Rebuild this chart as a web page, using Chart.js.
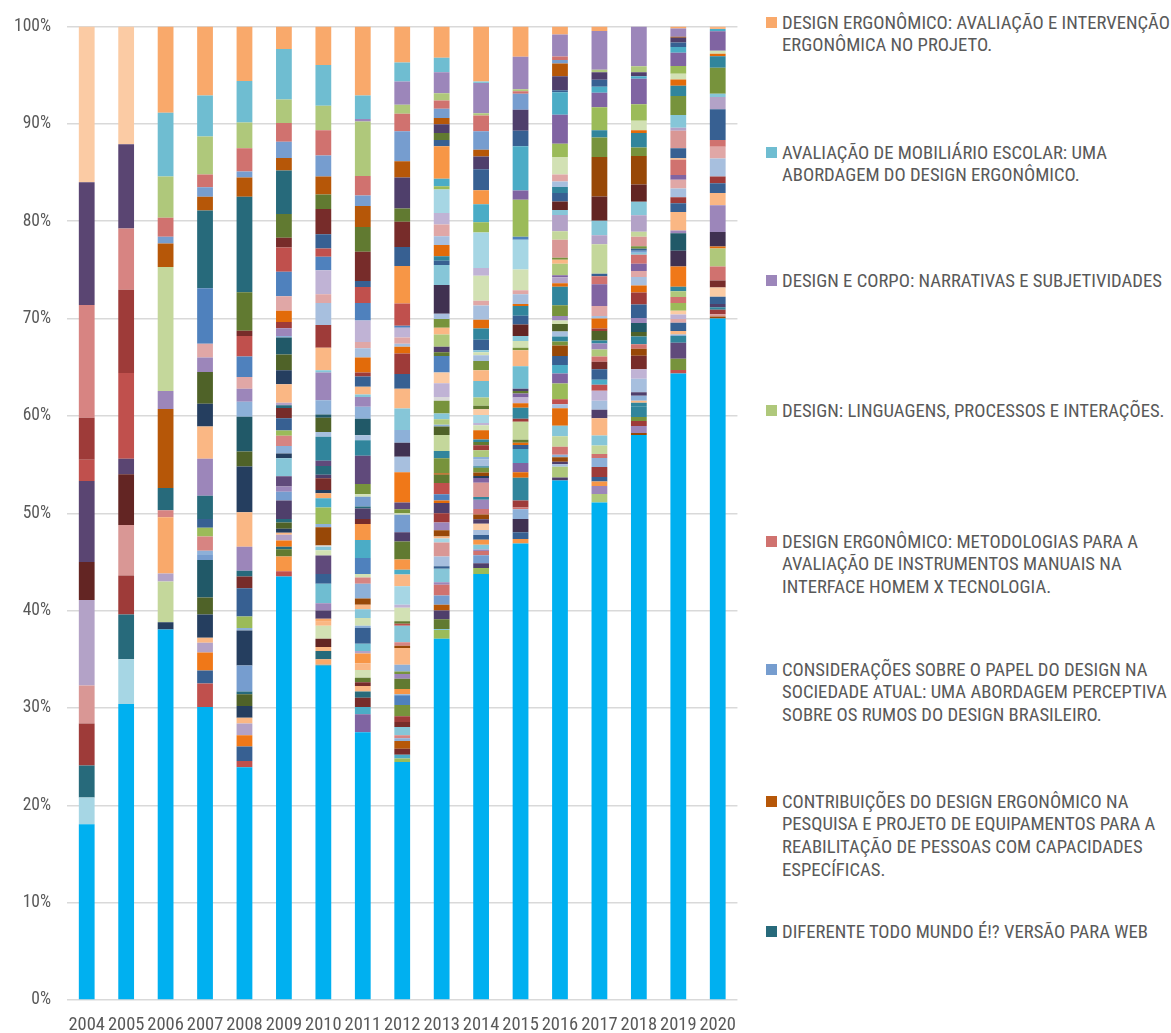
<!DOCTYPE html>
<html><head><meta charset="utf-8">
<script src="https://cdn.jsdelivr.net/npm/chart.js@4.4.1/dist/chart.umd.min.js"></script>
<style>
html,body{margin:0;padding:0;background:#fff;}
#wrap{position:relative;width:1171px;height:1033px;overflow:hidden;background:#fff;}
#c{position:absolute;left:0;top:0;}
.item{position:absolute;left:763px;}
.item .sw{position:absolute;left:3px;width:11px;height:11px;}
.item .tx{position:absolute;left:19px;white-space:nowrap;color:#595959;font-size:17.5px;line-height:22.7px;transform-origin:0 0;}
</style></head>
<body><div id="wrap"><canvas id="c" width="750" height="1033"></canvas><div id="legend"></div></div>
<script>
// ---------- DATA (each year listed from TOP segment to BOTTOM segment) ----------
const years = ['2004','2005','2006','2007','2008','2009','2010','2011','2012','2013','2014','2015','2016','2017','2018','2019','2020'];
const yTickLabels = ['0%','10%','20%','30%','40%','50%','60%','70%','80%','90%','100%'];

const v2004 = [16,12.6,11.6,4.3,2.2,8.3,3.9,8.8,3.9,4.3,3.3,2.75,18.05];
const v2005 = [12.1,8.65,6.3,8.55,8.8,1.6,5.2,5.2,4.0,4.6,4.6,30.4];
const v2006 = [8.85,6.55,4.25,1.95,0.7,2.4,12.75,1.85,8.1,2.3,0.7,5.8,0.8,4.2,0.75,38.05];
const v2007 = [7.1,4.2,3.9,1.3,1.0,1.4,8.0,5.7,1.4,1.5, 3.25,2.35,3.3,3.8,2.4,0.9,0.9,1.45,0.45,0.5, 3.85,1.75,2.4,0.5,1.0,1.85,1.35,2.4,30.1];
const v2008 = [5.6,4.25,2.65,2.4,0.6,2.0,9.8,3.95,0.55,2.1, 2.1,1.2,1.35,1.55,3.55,1.55,4.7,3.55,2.45,0.6, 1.2,2.9,1.2,0.25,3.6,2.65,0.3,1.2,1.2,0.6, 1.2,1.15,1.5,0.65,23.9];
const v2009 = [2.3,5.2,2.4,1.95,1.65,1.3,4.45,2.45,1.0,2.5, 2.5,1.5,1.15,0.65,0.8,0.15,1.75,1.6,1.45,1.9, 0.25,0.3,1.05,1.25,0.55,1.05,0.75,0.5,1.85,1.05, 0.55,0.9,1.9,0.35,0.65,0.4,0.2,0.6,0.65,0.25, 0.75,1.5,0.55,43.5];
const v2010 = [3.95,4.2,2.5,2.6,2.15,1.85,1.5,2.6,1.45,0.85, 1.4,2.45,0.9,2.25,2.35,2.3,0.25,2.85,1.45,0.35, 1.45,0.5,2.45,0.55,0.9,0.35,1.2,0.35,0.5,0.95, 1.7,0.35,1.85,0.15,0.35,0.55,1.9,1.0,2.0,0.75, 0.85,0.3,0.4,1.35,0.85,0.4,0.85,0.55,0.15,34.3];
const v2011 = [7.1,2.4,0.25,5.6,2.0,1.1,2.15,2.55,3.0,0.6, 1.65,1.8,2.2,0.65,0.95,1.55,0.4,1.05,0.8,0.25, 1.0,1.25,1.7,0.5,1.6,2.9,1.05,0.25,1.0,0.2, 1.1,0.5,1.65,1.85,1.65,0.35,0.65,1.5,0.65,0.45, 0.9,0.8,0.25,1.6,0.75,0.25,1.0,0.7,0.8,0.45, 0.4,0.55,0.65,0.95,0.75,1.85,27.5];
const v2012 = [3.7,1.95,2.4,0.9,1.8,3.1,1.65,3.2,1.35,2.6, 1.95,3.85,2.3,0.2,1.0,0.65,0.3,0.7,2.1,1.5, 2.05,2.2,1.3,1.45,1.6,3.1,0.7,0.4,0.15,1.8, 0.95,1.85,1.05,0.5,1.2,1.9,0.3,1.4,0.25,0.2, 1.7,0.35,0.25,1.7,0.7,0.25,0.5,1.05,0.55,0.1, 1.0,1.15,0.6,0.5,0.85,0.3,0.3,0.8,0.6,0.4, 0.35,24.45];
const v2013 = [3.2,1.5,2.15,0.75,0.85,0.95,0.65,0.9,0.7,0.65, 3.35,0.75,0.35,2.4,1.2,1.2,0.9,1.15,0.45,0.45, 2.05,2.95,0.55,0.9,0.7,1.25,0.55,0.4,1.7,1.1, 1.4,0.4,1.3,0.6,0.55,0.2,0.85,1.65,0.75,1.55, 0.15,0.85,1.15,0.65,0.25,1.05,0.95,0.8,0.65,0.2, 0.4,1.45,1.0,0.25,1.4,0.25,1.1,0.95,0.6,0.9, 1.0,0.1,0.9,37.1];
const v2014 = [5.65,0.15,3.1,0.25,1.6,1.9,0.7,1.3,2.15,1.45, 1.85,1.05,3.65,0.8,2.55,0.5,1.45,0.9,1.15,1.1, 0.2,0.3,0.6,0.95,1.1,1.7,0.85,0.35,0.6,0.8, 0.25,0.5,0.95,0.25,0.35,0.5,0.7,0.25,0.7,0.15, 0.5,0.35,0.2,0.5,1.45,0.3,0.95,0.55,0.5,0.45, 0.65,0.5,0.5,0.5,0.5,0.15,0.45,0.8,0.5,0.6, 43.75];
const v2015 = [3.1,3.35,0.2,0.25,1.65,2.15,1.6,4.55,0.95,3.8, 0.3,3.05,2.15,0.4,1.0,0.2,1.0,0.9,1.2,0.5, 0.7,0.25,1.65,2.3,0.25,0.25,0.4,0.6,0.45,1.15, 0.3,1.85,0.3,0.25,0.4,1.45,0.95,0.55,2.35,0.7, 0.2,1.0,1.35,0.7,0.45,46.9];
const v2016 = [0.8,2.2,0.35,0.35,1.25,1.4,0.2,2.25,2.9,1.3, 1.75,0.7,0.55,0.6,0.85,0.85,0.5,1.6,0.85,1.8, 0.2,0.4,1.15,0.2,0.6,0.35,1.85,1.05,0.45,0.35, 0.75,0.5,0.5,0.4,1.05,0.9,0.85,1.0,1.55,0.5, 0.4,1.75,1.05,1.05,0.8,0.25,0.45,0.25,0.25,1.05, 0.3,51.8];
const v2017 = [0.45,3.85,0.25,0.75,0.7,0.6,1.45,2.3,0.7,1.95, 3.95,2.4,1.45,0.9,2.95,0.25,0.8,2.15,1.0,0.25, 1.0,0.25,0.95,0.3,0.6,0.7,0.5,0.75,1.05,0.5, 0.6,1.0,0.9,0.85,1.7,1.0,0.85,0.4,0.9,1.0, 0.45,0.45,0.8,0.85,49.57];
const v2018 = [3.95,0.6,0.4,0.25,2.55,1.65,0.95,0.25,1.45,0.85, 2.85,1.7,1.35,1.65,0.5,0.95,0.25,0.2,0.2,0.2, 0.9,0.7,0.6,0.85,0.7,1.2,1.35,0.5,0.9,0.45, 0.75,0.45,0.7,1.35,0.95,1.35,0.35,0.5,0.2,0.4, 1.0,0.4,0.5,0.7,0.2,56.3];
const v2019 = [0.2,0.85,0.1,0.5,0.45,0.6,1.35,0.8,0.6,0.65, 1.05,1.95,1.3,0.3,1.8,1.05,0.15,1.55,0.5,0.9, 0.9,0.6,0.9,1.9,0.3,1.8,1.6,2.1,0.45,0.6, 0.6,0.8,0.4,0.45,0.4,0.85,0.35,0.15,0.7,1.65, 1.15,0.35,64.38];
const v2020 = [0.25,0.25,2.0,0.3,0.25,1.2,2.65,0.35,1.25,3.15, 0.7,1.2,1.85,0.7,1.0,1.25,2.75,1.5,0.2,1.85, 1.45,0.7,0.95,0.75,0.35,0.25,0.45,0.25,0.2,70.0];

const legendNames = [
  ['DESIGN ERGONÔMICO: AVALIAÇÃO E INTERVENÇÃO','ERGONÔMICA NO PROJETO.'],
  ['AVALIAÇÃO DE MOBILIÁRIO ESCOLAR: UMA','ABORDAGEM DO DESIGN ERGONÔMICO.'],
  ['DESIGN E CORPO: NARRATIVAS E SUBJETIVIDADES'],
  ['DESIGN: LINGUAGENS, PROCESSOS E INTERAÇÕES.'],
  ['DESIGN ERGONÔMICO: METODOLOGIAS PARA A','AVALIAÇÃO DE INSTRUMENTOS MANUAIS NA','INTERFACE HOMEM X TECNOLOGIA.'],
  ['CONSIDERAÇÕES SOBRE O PAPEL DO DESIGN NA','SOCIEDADE ATUAL: UMA ABORDAGEM PERCEPTIVA','SOBRE OS RUMOS DO DESIGN BRASILEIRO.'],
  ['CONTRIBUIÇÕES DO DESIGN ERGONÔMICO NA','PESQUISA E PROJETO DE EQUIPAMENTOS PARA A','REABILITAÇÃO DE PESSOAS COM CAPACIDADES','ESPECÍFICAS.'],
  ['DIFERENTE TODO MUNDO É!? VERSÃO PARA WEB']
];

// ---------- STYLES ----------
const PAL = {
  BL:'#00B0F0', O:'#F9A96B', PL:'#FBCBA4', PE:'#FAB784', ST:'#6FBDD1', PM:'#9C86BA', LG:'#AFC87B',
  SA:'#D0726F', SB:'#769DCF', DO:'#B65708', DT:'#276A7B', DT2:'#215968', MB:'#4F81BD', PK:'#E0A7A6',
  DPK:'#D99795', SP:'#D78482', DOL:'#4F6228', DN:'#253E5F', PU:'#8064A2', PU2:'#604A7B', DP:'#4F3F6B',
  DP2:'#403151', PLUM:'#5A4572', LAV:'#B3A2C7', LL:'#C0B3D5', DR:'#9E3B39', RD:'#C0504D', MAR:'#632523',
  MR:'#772C2A', LB:'#A6D6E4', LB2:'#86C6D8', PG:'#D2E1B4', PG2:'#C4D79B', YG:'#9BBB59', OG:'#77933C',
  OL:'#617A31', NB:'#376092', OB:'#F07818', OD:'#E26B0A', OR:'#F79646', TB:'#4BACC6', TE:'#31859C',
  LS:'#A7BFDE', SL:'#8DB0D8', BO:'#984807', GR:'#D9D9D9'
};
const c2004 = ['PL','PLUM','SP','DR','RD','PLUM','MAR','LAV','DPK','DR','DT','LB','BL'];
const c2005 = ['PL','PLUM','SP','DR','RD','PLUM','MAR','DPK','DR','DT','LB','BL'];
const c2006 = ['O','ST','LG','SA','SB','DO','PG2','PM','DO','DT','SP','O','LAV','PG2','DN','BL'];
const c2007 = ['O','ST','LG','SA','SB','DO','DT','MB','PK','PM', 'DOL','DN','PE','PM','DT','NB','YG','SP','SL','SB', 'DT2','DOL','DN','PE','LAV','OB','NB','RD','BL'];
const c2008 = ['O','ST','LG','SA','SB','DO','DT','OL','MR','RD', 'MB','PK','PM','SL','DT2','DOL','DN','PE','PM','DT', 'MR','NB','YG','SL','DN','SB','DT','DOL','DN','PE', 'LAV','OB','NB','RD','BL'];
const c2009 = ['O','ST','LG','SA','SB','DO','DT','OL','MR','RD', 'MB','PK','OD','DR','PM','SL','DT2','DOL','DN','PE', 'LAV','DT','MR','NB','YG','SP','SL','DN','LB2','PU2', 'PM','SB','DP','DT','DOL','DN','PE','LAV','OB','DT', 'OL','OR','RD','BL'];
const c2010 = ['O','ST','LG','SA','SB','DO','OL','MR','NB','RD', 'MB','LL','PK','LS','DR','PE','LB2','PM','SL','DT2', 'DOL','LS','TE','PU2','DT','DP','MR','DN','O','TB', 'YG','SL','BO','GR','LB2','PG','PU2','NB','ST','PM', 'DP','O','PE','PG','MAR','PE','DT','O','TB','BL'];
const c2011 = ['O','ST','PM','LG','SA','SB','DO','OL','MR','NB', 'RD','MB','LL','PK','LS','OD','DR','NB','PE','LB2', 'PM','SL','DT2','LS','TE','PU2','OG','PG','SB','DT', 'DP','MR','OR','TB','MB','PG','SP','SL','BO','PE', 'LB2','PG','SL','NB','ST','LAV','OR','PE','PG','OL', 'MR','PE','DT','MR','TB','PU','BL'];
const c2012 = ['O','ST','PM','LG','SA','SB','DO','DP','OL','MR', 'NB','OR','RD','MB','LL','PK','LS','OD','DR','NB', 'PE','LB2','SL','DP2','LS','OB','PU2','OG','PG','SB', 'DP','OL','OR','TB','PE','LB','LL','PG','OL','RD', 'LB2','SP','BO','PE','SL','OG','PM','OL','OR','SL', 'MB','OG','DR','MR','LB2','SP','SL','DO','MR','TB', 'YG','BL'];
const c2013 = ['O','ST','PM','LG','SA','SB','DO','DP','OL','NB', 'OR','TB','YG','LB','LL','PK','LS','OD','TE','NB', 'LB2','DP2','LS','OG','PE','LG','DP','OL','MB','PL', 'LL','GR','OG','LB2','LG','SL','DOL','PG2','TE','OG', 'DO','OL','RD','MB','OD','DP','DR','PM','BO','PE', 'LB','DPK','LS','NB','LB2','PM','SA','SB','DO','DP', 'OL','LB2','YG','BL'];
const c2014 = ['O','LB2','PM','LG','SA','SB','DO','DP','NB','OR', 'TB','YG','LB','LL','PG','PK','LS','OD','TE','NB', 'LB2','PG','LS','OG','PE','ST','LG','OL','PL','LB', 'LL','PG','OD','TE','OL','DR','LG','SL','LS','TE', 'OG','BO','DN','PU','DPK','TE','PM','SA','BO','DP', 'PL','LS','NB','OR','LB2','PM','SA','SB','DP','YG', 'BL'];
const c2015 = ['O','PM','LG','SA','SB','DP','NB','TB','PU','YG', 'MB','LB','PG','PK','LS','OD','TE','NB','MAR','LB2', 'PG','OG','PE','ST','DP','OL','PU','LL','OD','TE', 'DR','PG2','OL','OD','NB','TB','PU','OD','TE','DR', 'SA','SL','DP2','NB','OR','BL'];
const c2016 = ['O','PM','SA','SB','DO','DP','NB','TB','PU','YG', 'PG','PK','LS','TE','NB','MAR','LB2','LAV','PG2','DPK', 'OG','PE','LG','PU','LAV','OD','TE','OG','PM','PG', 'DOL','LS','TE','OG','BO','NB','TB','PU','YG','RD', 'LS','OD','LB2','PG2','SA','SL','BO','DP','LS','LG', 'DP','BL'];
const c2017 = ['O','PM','LG','DP','NB','TB','PU','YG','TE','OG', 'BO','MAR','LB2','LAV','PG2','NB','SA','PU','PK','LS', 'OD','DR','DOL','TE','PM','LG','SA','MR','NB','TB', 'RD','LL','LS','DP','PE','LB2','PG2','SA','SL','DR', 'NB','OR','PM','LG','BL'];
const c2018 = ['PM','LG','DP','TB','PU','YG','PG','OD','TE','OG', 'BO','MAR','LB2','LAV','PG2','DPK','OG','NB','SB','LB2', 'SA','PU','PK','LS','OD','DR','NB','PM','DT2','DOL', 'TE','SA','BO','MR','LL','LS','DP','SL','PE','TE', 'TE','OG','DR','PM','BO','BL'];
const c2019 = ['O','PM','BO','DP','NB','TB','PU','YG','PG','OD', 'TE','OG','LB2','LAV','DPK','NB','PE','SA','PU','PK', 'LS','DR','NB','PE','PM','DT2','DP2','OB','TE','LG', 'SA','YG','PL','LL','PK','NB','PE','SL','TE','PU2', 'OG','RD','BL'];
const c2020 = ['PE','TB','PU','PG','OD','TE','OG','LB2','LAV','NB', 'SA','PK','LS','DR','NB','PE','PM','DP2','OD','LG', 'SA','MR','PL','NB','DP','TE','DR','DPK','BO','BL'];
const legendColors = ['O','ST','PM','LG','SA','SB','DO','DT'];
const legendTops = [23,153,281,411,542,670,802,932]; // first-line centres

// ---------- FONT ----------
function hasFont(name){
  const c=document.createElement('canvas').getContext('2d');
  const t='DESIGN ERGONÔMICO 2004 wmli';
  c.font='40px monospace'; const a=c.measureText(t).width;
  c.font='40px "'+name+'", monospace'; const b=c.measureText(t).width;
  return Math.abs(a-b)>0.5;
}
const cands=['Roboto Condensed','Liberation Sans Narrow','Arial Narrow','DejaVu Sans Condensed','Roboto'];
let FONT='Roboto';
for(const f of cands){ if(hasFont(f)){FONT=f;break;} }
const FAM='"'+FONT+'", Roboto, sans-serif';

// ---------- BUILD STACKS ----------
const allV=[v2004,v2005,v2006,v2007,v2008,v2009,v2010,v2011,v2012,v2013,v2014,v2015,v2016,v2017,v2018,v2019,v2020];
const allC=[c2004,c2005,c2006,c2007,c2008,c2009,c2010,c2011,c2012,c2013,c2014,c2015,c2016,c2017,c2018,c2019,c2020];
const stacks=allV.map((v,i)=>{
  const tot=v.reduce((a,b)=>a+b,0);
  return {vals:v.slice().reverse().map(x=>x/tot*100), cols:allC[i].slice().reverse().map(k=>PAL[k]||'#cccccc')};
});
const maxN=Math.max(...stacks.map(s=>s.vals.length));
const datasets=[];
for(let k=0;k<maxN;k++){
  datasets.push({
    data:stacks.map(s=>k<s.vals.length?s.vals[k]:null),
    backgroundColor:stacks.map(s=>s.cols[k]||'rgba(0,0,0,0)'),
    borderWidth:0, barPercentage:0.4, categoryPercentage:1, stack:'s'
  });
}

new Chart(document.getElementById('c').getContext('2d'),{
  type:'bar',
  data:{labels:years,datasets},
  options:{
    responsive:false, animation:false, events:[],
    layout:{padding:{top:25,left:0,right:0,bottom:0}},
    plugins:{legend:{display:false},tooltip:{enabled:false}},
    scales:{
      x:{stacked:true, grid:{display:false,drawTicks:false}, border:{display:false},
         ticks:{color:'#595959',font:{family:FAM,size:18.5},padding:14,maxRotation:0,autoSkip:false},
         afterFit:s=>{s.height=33;}},
      y:{stacked:true,min:0,max:100,
         ticks:{stepSize:10,color:'#595959',font:{family:FAM,size:17.5},padding:16,
                callback:(v,i)=>yTickLabels[Math.round(v/10)]},
         grid:{color:'#D9D9D9',lineWidth:1.5,drawTicks:false}, border:{display:false},
         afterFit:s=>{s.width=67;}}
    }
  }
});

// ---------- LEGEND ----------
const lg=document.getElementById('legend');
const mc=document.createElement('canvas').getContext('2d');
mc.font='17.5px '+FAM;
let sx=388/mc.measureText(legendNames[0][0]).width;
if(sx>1.2)sx=1.2; if(sx<0.6)sx=0.6;
legendNames.forEach((lines,i)=>{
  const it=document.createElement('div'); it.className='item';
  it.style.top=(legendTops[i]-11.35)+'px';
  const sw=document.createElement('div'); sw.className='sw';
  sw.style.background=PAL[legendColors[i]]; sw.style.top=(11.35-6)+'px';
  const tx=document.createElement('div'); tx.className='tx';
  tx.style.fontFamily=FAM; tx.style.transform='scaleX('+sx.toFixed(4)+')';
  tx.innerHTML=lines.join('<br>');
  it.appendChild(sw); it.appendChild(tx); lg.appendChild(it);
});
</script>
</body></html>
